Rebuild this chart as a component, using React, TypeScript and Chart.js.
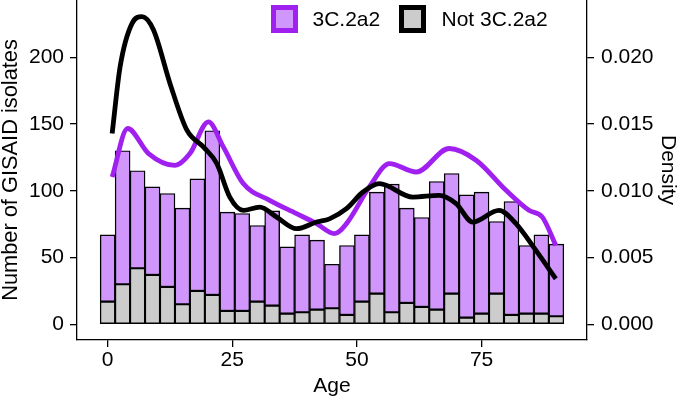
import React, { useEffect, useRef } from "react";
import { Chart, registerables } from "chart.js";

Chart.register(...registerables);

// Histogram bins (age, bin width 3)
const ages: number[] = [0, 3, 6, 9, 12, 15, 18, 21, 24, 27, 30, 33, 36, 39, 42, 45, 48, 51, 54, 57, 60, 63, 66, 69, 72, 75, 78, 81, 84, 87, 90];
// Not 3C.2a2 counts (grey, bottom of stack)
const notCounts: number[] = [17, 30, 42, 37, 28, 15, 25, 22, 10, 10, 17, 14, 8, 9, 11, 12, 7, 17, 23, 9, 16, 13, 11, 23, 5, 8, 23, 7, 8, 8, 6];
// 3C.2a2 counts (purple, stacked on top)
const c3Counts: number[] = [50, 100, 73, 66, 70, 72, 84, 123, 74, 73, 57, 71, 50, 58, 52, 33, 52, 50, 76, 96, 71, 67, 96, 90, 92, 91, 54, 85, 51, 59, 54];

// Density curves
const densAges3C: number[] = [0.9, 4.0, 8.2, 13.5, 16.5, 20.2, 23.2, 27.2, 32.5, 37.9, 41.9, 45.5, 47.9, 52.5, 56.5, 61.9, 68.5, 73.9, 79.9, 84.5, 87.2, 89.9];
const dens3C: number[] = [0.01104, 0.01467, 0.01279, 0.0119, 0.01279, 0.01516, 0.01329, 0.01054, 0.00929, 0.00829, 0.00754, 0.00679, 0.00754, 0.01029, 0.01204, 0.01141, 0.01317, 0.01229, 0.01004, 0.00854, 0.00803, 0.0059];
const densAgesNot: number[] = [0.9, 2.5, 4.9, 6.9, 9.2, 12.5, 15.9, 19.2, 21.9, 24.5, 27.2, 30.5, 33.9, 37.9, 41.9, 44.5, 47.9, 51.2, 54.5, 61.2, 66.5, 69.9, 73.2, 78.5, 81.9, 85.9, 89.9];
const densNot: number[] = [0.01429, 0.0193, 0.02255, 0.02305, 0.02205, 0.01805, 0.01454, 0.01329, 0.01204, 0.00953, 0.00854, 0.00878, 0.00803, 0.00716, 0.00766, 0.0079, 0.00866, 0.00991, 0.01054, 0.00953, 0.00966, 0.00904, 0.00766, 0.00854, 0.00754, 0.00553, 0.00341];

const xTicks: number[] = [0, 25, 50, 75];
const yTicks: number[] = [0, 50, 100, 150, 200];
const densTicks: number[] = [0, 0.005, 0.01, 0.015, 0.02];
const legendLabels: string[] = ["3C.2a2", "Not 3C.2a2"];

const PURPLE = "#a020f0";
const PURPLE_FILL = "#d096fb";
const GREY_FILL = "#cccccc";
const FONT = "'Liberation Sans', Arial, Helvetica, sans-serif";

const legendPlugin = {
  id: "customLegend",
  afterDraw(chart: any) {
    const ctx = chart.ctx;
    ctx.save();
    // purple key
    ctx.fillStyle = PURPLE_FILL;
    ctx.fillRect(271, 5, 27, 28);
    ctx.strokeStyle = PURPLE;
    ctx.lineWidth = 5;
    ctx.strokeRect(273.5, 7.5, 22, 23);
    // grey key
    ctx.fillStyle = GREY_FILL;
    ctx.fillRect(399, 5, 27, 28);
    ctx.strokeStyle = "#000";
    ctx.lineWidth = 5;
    ctx.strokeRect(401.5, 7.5, 22, 23);
    ctx.fillStyle = "#000";
    ctx.font = `21px ${FONT}`;
    ctx.textBaseline = "middle";
    ctx.textAlign = "left";
    ctx.fillText(legendLabels[0], 312.5, 20);
    ctx.fillText(legendLabels[1], 441.5, 20);
    ctx.restore();
  },
};

export default function App() {
  const ref = useRef<HTMLCanvasElement | null>(null);
  useEffect(() => {
    if (!ref.current) return;
    const tickFont = { family: FONT, size: 21, lineHeight: 1 };
    const chart = new Chart(ref.current, {
      type: "bar",
      data: {
        datasets: [
          {
            type: "line",
            label: legendLabels[1] + " density",
            data: densAgesNot.map((a, i) => ({ x: a, y: densNot[i] })),
            borderColor: "#000",
            borderWidth: 4.8,
            pointRadius: 0,
            cubicInterpolationMode: "monotone",
            yAxisID: "y2",
            order: 0,
          } as any,
          {
            type: "line",
            label: legendLabels[0] + " density",
            data: densAges3C.map((a, i) => ({ x: a, y: dens3C[i] })),
            borderColor: PURPLE,
            borderWidth: 4.8,
            pointRadius: 0,
            cubicInterpolationMode: "monotone",
            yAxisID: "y2",
            order: 1,
          } as any,
          {
            type: "bar",
            label: legendLabels[1],
            data: ages.map((a, i) => ({ x: a, y: notCounts[i] })),
            backgroundColor: GREY_FILL,
            borderColor: "#000",
            borderWidth: 1.4,
            borderSkipped: false,
            barPercentage: 1,
            categoryPercentage: 1,
            stack: "s",
            yAxisID: "y",
            order: 2,
          } as any,
          {
            type: "bar",
            label: legendLabels[0],
            data: ages.map((a, i) => ({ x: a, y: c3Counts[i] })),
            backgroundColor: PURPLE_FILL,
            borderColor: "#000",
            borderWidth: 1.4,
            borderSkipped: false,
            barPercentage: 1,
            categoryPercentage: 1,
            stack: "s",
            yAxisID: "y",
            order: 3,
          } as any,
        ],
      },
      options: {
        animation: false,
        responsive: false,
        maintainAspectRatio: false,
        layout: { padding: 0 },
        plugins: { legend: { display: false }, tooltip: { enabled: false } },
        scales: {
          x: {
            type: "linear",
            stacked: true,
            offset: false,
            min: -6.15,
            max: 96.15,
            grid: { display: true, drawOnChartArea: false, drawTicks: true, tickLength: 7, color: "#000", lineWidth: 1.3, offset: false },
            border: { display: true, color: "#000", width: 1.3 },
            ticks: { color: "#000", font: tickFont, padding: 3, maxRotation: 0 },
            title: { display: true, text: "Age", color: "#000", font: tickFont, padding: { top: 0, bottom: 3 } },
            afterBuildTicks: (s: any) => { s.ticks = xTicks.map((v) => ({ value: v })); },
            afterFit: (s: any) => { s.height = 60; s.paddingLeft = 0; s.paddingRight = 0; },
          } as any,
          y: {
            type: "linear",
            position: "left",
            stacked: true,
            min: -11.8,
            max: 243,
            grid: { display: true, drawOnChartArea: false, drawTicks: true, tickLength: 7, color: "#000", lineWidth: 1.3 },
            border: { display: true, color: "#000", width: 1.3 },
            ticks: { color: "#000", font: tickFont, padding: 6 },
            title: { display: true, text: "Number of GISAID isolates", color: "#000", font: { family: FONT, size: 21.8, lineHeight: 1 }, padding: { top: 0, bottom: 0 } },
            afterBuildTicks: (s: any) => { s.ticks = yTicks.map((v) => ({ value: v })); },
            afterFit: (s: any) => { s.width = 77; s.paddingTop = 0; s.paddingBottom = 0; },
          } as any,
          y2: {
            type: "linear",
            position: "right",
            stacked: false,
            min: -0.00118,
            max: 0.0243,
            grid: { display: true, drawOnChartArea: false, drawTicks: true, tickLength: 7, color: "#000", lineWidth: 1.3 },
            border: { display: true, color: "#000", width: 1.3 },
            ticks: { color: "#000", font: tickFont, padding: 7, callback: (v: any) => Number(v).toFixed(3) },
            title: { display: true, text: "Density", color: "#000", font: tickFont, padding: { top: 0, bottom: 0 } },
            afterBuildTicks: (s: any) => { s.ticks = densTicks.map((v) => ({ value: v })); },
            afterFit: (s: any) => { s.width = 91; s.paddingTop = 0; s.paddingBottom = 0; },
          } as any,
        },
      },
      plugins: [legendPlugin],
    } as any);
    return () => chart.destroy();
  }, []);
  return (
    <div style={{ position: "absolute", left: 0, top: 0, width: 678, height: 400, background: "#fff" }}>
      <canvas ref={ref} width={678} height={400} style={{ width: 678, height: 400 }} />
    </div>
  );
}
